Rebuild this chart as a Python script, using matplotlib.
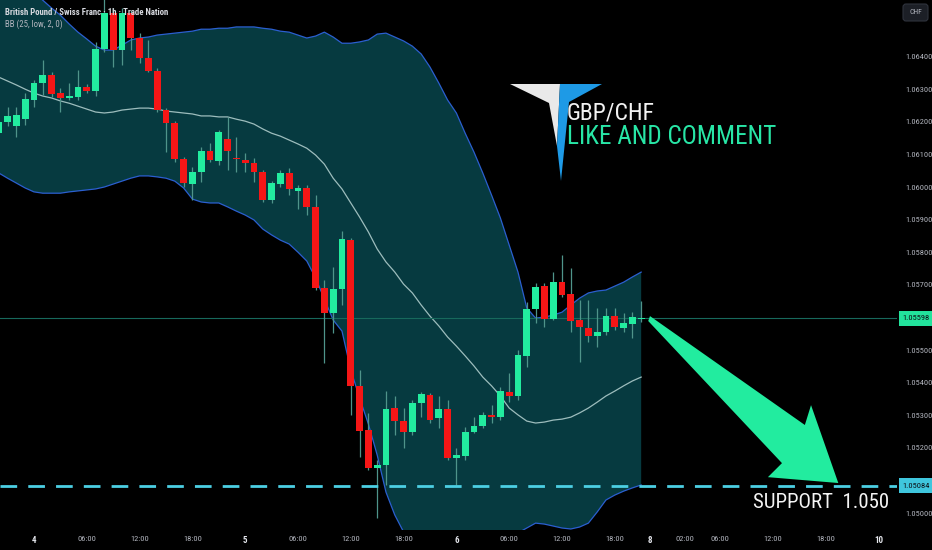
import numpy as np
import matplotlib.pyplot as plt
from matplotlib import transforms
from matplotlib import font_manager as fm
from matplotlib.patches import Polygon, Rectangle, FancyBboxPatch


def pick_font(*names):
    for n in names:
        try:
            fm.findfont(fm.FontProperties(family=n), fallback_to_default=False)
            return n
        except Exception:
            pass
    return 'DejaVu Sans'


NARROW = pick_font('Liberation Sans Narrow', 'Roboto Condensed', 'Liberation Sans')
plt.rcParams['font.family'] = [NARROW, 'DejaVu Sans']

# hourly bars, index = hours since day 4 00:00 (weekend gap collapsed)
bar_index = np.arange(-4, 70)

opens = [
    1.06165, 1.06199, 1.06187, 1.06208,
    1.06267, 1.06319, 1.06343, 1.06288, 1.06273, 1.06276, 1.06307, 1.06294, 1.06423, 1.06534,
    1.06420, 1.06534, 1.06457, 1.06395, 1.06356, 1.06236, 1.06196, 1.06086, 1.06009, 1.06046,
    1.06110, 1.06080, 1.06147, 1.06089, 1.06083, 1.06073, 1.06046, 1.05960, 1.06009, 1.06043,
    1.05988, 1.05997, 1.05939, 1.05690, 1.05613, 1.05687, 1.05837, 1.05390, 1.05255, 1.05138,
    1.05147, 1.05322, 1.05282, 1.05248, 1.05337, 1.05362, 1.05291, 1.05319, 1.05169, 1.05175,
    1.05248, 1.05267, 1.05301, 1.05294, 1.05371, 1.05359, 1.05482, 1.05626, 1.05696, 1.05595,
    1.05708, 1.05672, 1.05592, 1.05567, 1.05543, 1.05555, 1.05604, 1.05567, 1.05580, 1.05595,
]
highs = [
    1.06218, 1.06245, 1.06245, 1.06288,
    1.06328, 1.06389, 1.06353, 1.06303, 1.06319, 1.06359, 1.06316, 1.06445, 1.06589, 1.06549,
    1.06549, 1.06543, 1.06472, 1.06451, 1.06365, 1.06242, 1.06202, 1.06092, 1.06061, 1.06123,
    1.06135, 1.06175, 1.06215, 1.06153, 1.06104, 1.06089, 1.06052, 1.06018, 1.06052, 1.06058,
    1.06006, 1.06006, 1.05975, 1.05715, 1.05754, 1.05865, 1.05843, 1.05439, 1.05307, 1.05163,
    1.05374, 1.05359, 1.05322, 1.05347, 1.05371, 1.05368, 1.05359, 1.05347, 1.05199, 1.05264,
    1.05294, 1.05310, 1.05331, 1.05386, 1.05429, 1.05500, 1.05647, 1.05705, 1.05705, 1.05739,
    1.05791, 1.05751, 1.05653, 1.05653, 1.05629, 1.05629, 1.05629, 1.05613, 1.05616, 1.05650,
]
lows = [
    1.06144, 1.06187, 1.06153, 1.06190,
    1.06245, 1.06282, 1.06276, 1.06230, 1.06267, 1.06267, 1.06288, 1.06279, 1.06414, 1.06368,
    1.06374, 1.06420, 1.06380, 1.06353, 1.06230, 1.06107, 1.06077, 1.06000, 1.05960, 1.06015,
    1.06077, 1.06067, 1.06052, 1.06046, 1.06046, 1.06015, 1.05954, 1.05951, 1.06000, 1.05975,
    1.05932, 1.05914, 1.05684, 1.05460, 1.05552, 1.05638, 1.05301, 1.05172, 1.05132, 1.04985,
    1.05086, 1.05239, 1.05199, 1.05239, 1.05294, 1.05276, 1.05261, 1.05163, 1.05086, 1.05163,
    1.05245, 1.05261, 1.05276, 1.05285, 1.05340, 1.05347, 1.05448, 1.05583, 1.05570, 1.05592,
    1.05662, 1.05555, 1.05463, 1.05524, 1.05509, 1.05546, 1.05561, 1.05555, 1.05537, 1.05586,
]
closes = [
    1.06199, 1.06218, 1.06221, 1.06270,
    1.06319, 1.06343, 1.06285, 1.06273, 1.06279, 1.06307, 1.06294, 1.06423, 1.06534, 1.06420,
    1.06534, 1.06457, 1.06395, 1.06356, 1.06236, 1.06196, 1.06086, 1.06012, 1.06046, 1.06110,
    1.06083, 1.06169, 1.06110, 1.06086, 1.06073, 1.06046, 1.05960, 1.06012, 1.06043, 1.05994,
    1.05997, 1.05939, 1.05690, 1.05613, 1.05687, 1.05840, 1.05390, 1.05251, 1.05138, 1.05147,
    1.05319, 1.05282, 1.05248, 1.05337, 1.05365, 1.05285, 1.05319, 1.05169, 1.05178, 1.05248,
    1.05267, 1.05301, 1.05294, 1.05374, 1.05359, 1.05485, 1.05626, 1.05693, 1.05595, 1.05708,
    1.05669, 1.05589, 1.05570, 1.05543, 1.05555, 1.05604, 1.05570, 1.05583, 1.05601, 1.05598,
]

# Bollinger bands BB(25, low, 2, 0)
bb_upper = [
    1.06699, 1.06675, 1.06650, 1.06626,
    1.06598, 1.06573, 1.06549, 1.06527, 1.06500, 1.06475, 1.06454, 1.06432, 1.06420, 1.06420,
    1.06435, 1.06451, 1.06457, 1.06460, 1.06466, 1.06469, 1.06472, 1.06475, 1.06478, 1.06484,
    1.06484, 1.06487, 1.06487, 1.06491, 1.06491, 1.06491, 1.06487, 1.06484, 1.06478, 1.06475,
    1.06466, 1.06457, 1.06463, 1.06475, 1.06460, 1.06441, 1.06441, 1.06445, 1.06451, 1.06469,
    1.06472, 1.06460, 1.06448, 1.06432, 1.06408, 1.06368, 1.06319, 1.06267, 1.06227, 1.06165,
    1.06107, 1.06043, 1.05975, 1.05905, 1.05822, 1.05739, 1.05629, 1.05598, 1.05601, 1.05607,
    1.05616, 1.05638, 1.05659, 1.05675, 1.05681, 1.05684, 1.05696, 1.05708, 1.05724, 1.05739,
]
bb_basis = [
    1.06337, 1.06325, 1.06313, 1.06300,
    1.06288, 1.06279, 1.06273, 1.06264, 1.06257, 1.06248, 1.06239, 1.06230, 1.06227, 1.06230,
    1.06236, 1.06239, 1.06242, 1.06242, 1.06239, 1.06233, 1.06230, 1.06227, 1.06224, 1.06218,
    1.06218, 1.06215, 1.06215, 1.06208, 1.06202, 1.06193, 1.06178, 1.06165, 1.06156, 1.06144,
    1.06132, 1.06119, 1.06098, 1.06070, 1.06027, 1.05994, 1.05951, 1.05908, 1.05862, 1.05810,
    1.05770, 1.05739, 1.05702, 1.05675, 1.05638, 1.05604, 1.05574, 1.05540, 1.05512, 1.05482,
    1.05451, 1.05417, 1.05390, 1.05359, 1.05322, 1.05301, 1.05282, 1.05276, 1.05279, 1.05285,
    1.05288, 1.05294, 1.05307, 1.05322, 1.05340, 1.05359, 1.05374, 1.05390, 1.05405, 1.05417,
]
bb_lower = [
    1.06043, 1.06027, 1.06012, 1.05997,
    1.05985, 1.05981, 1.05981, 1.05981, 1.05985, 1.05988, 1.05991, 1.05994, 1.06000, 1.06009,
    1.06018, 1.06027, 1.06034, 1.06034, 1.06031, 1.06027, 1.06018, 1.05997, 1.05963, 1.05954,
    1.05951, 1.05951, 1.05939, 1.05926, 1.05914, 1.05899, 1.05871, 1.05853, 1.05837, 1.05825,
    1.05800, 1.05773, 1.05721, 1.05656, 1.05592, 1.05558, 1.05439, 1.05353, 1.05273, 1.05178,
    1.05064, 1.04994, 1.04942, 1.04902, 1.04880, 1.04862, 1.04850, 1.04841, 1.04837, 1.04837,
    1.04841, 1.04850, 1.04868, 1.04893, 1.04917, 1.04939, 1.04954, 1.04969, 1.04966, 1.04960,
    1.04954, 1.04951, 1.04957, 1.04969, 1.05003, 1.05040, 1.05055, 1.05067, 1.05077, 1.05086,
]

support_level = 1.05084
price_ticks = [1.050, 1.051, 1.052, 1.053, 1.054, 1.055, 1.056, 1.057, 1.058,
               1.059, 1.060, 1.061, 1.062, 1.063, 1.064, 1.065]
# labels hidden behind the price boxes / currency badge
hidden_ticks = [1.051, 1.056, 1.065]
time_tick_pos = [0, 6, 12, 18, 24, 30, 36, 42, 48, 54, 60, 66, 70, 74, 78, 84, 90, 96]
time_tick_labels = ['4', '06:00', '12:00', '18:00', '5', '06:00', '12:00', '18:00', '6',
                    '06:00', '12:00', '18:00', '8', '02:00', '06:00', '12:00', '18:00', '10']

GREEN = '#22ec9f'
RED = '#f51616'
BG = '#000000'

fig = plt.figure(figsize=(9.32, 5.5), dpi=100, facecolor=BG)
ax = fig.add_axes([0, 20 / 550, 897 / 932, 530 / 550])
ax.set_facecolor(BG)
ax.set_xlim(-3.86, 98.07)
ax.set_ylim(1.049479, 1.065736)
for s in ax.spines.values():
    s.set_visible(False)

# bollinger bands
ax.fill_between(bar_index, bb_lower, bb_upper, color='#063a40', lw=0, zorder=1)
ax.plot(bar_index, bb_upper, color='#2b5fd0', lw=0.9, zorder=2)
ax.plot(bar_index, bb_lower, color='#2b5fd0', lw=0.9, zorder=2)
ax.plot(bar_index, bb_basis, color='#9dbdbd', lw=0.9, zorder=2)

# last price line
ax.axhline(closes[-1], color='#17695c', lw=0.8, zorder=2.5)

# candles
o = np.array(opens)
c = np.array(closes)
up = c >= o
cols = np.where(up, GREEN, RED)
ax.vlines(bar_index, lows, highs, color='#4f948a', lw=0.9, zorder=3)
body_bottom = np.minimum(o, c)
body_height = np.maximum(np.abs(c - o), 0.00004)
ax.bar(bar_index, body_height, bottom=body_bottom, width=0.76, color=cols, lw=0, zorder=4)

# support line
ax.axhline(support_level, color='#4ccfe3', lw=2.0, dashes=(6, 4), zorder=5)

# arrow towards support
arrow_shape = [(70.0, 1.05604), (87.6, 1.05270), (88.3, 1.05331), (91.4, 1.05092),
               (83.4, 1.05110), (85.0, 1.05153), (69.8, 1.05589)]
ax.add_patch(Polygon(arrow_shape, closed=True, color=GREEN, lw=0, zorder=6))

# axes ticks
ax.yaxis.tick_right()
ax.set_yticks(price_ticks)
ax.set_yticklabels(['' if t in hidden_ticks else f'{t:.5f}' for t in price_ticks])
ax.tick_params(axis='y', length=0, pad=6, labelsize=6, labelcolor='#b2b5be')
ax.set_xticks(time_tick_pos)
ax.set_xticklabels(time_tick_labels)
ax.tick_params(axis='x', length=0, pad=4, labelsize=6, labelcolor='#b2b5be')
for lbl in ax.get_xticklabels():
    if ':' not in lbl.get_text():
        lbl.set_fontweight('bold')
        lbl.set_color('#e6e8ee')
        lbl.set_fontsize(6.5)

# price boxes on the scale
blend = transforms.blended_transform_factory(ax.transAxes, ax.transData)
box_h = 15 / 32600
for price, fc in [(closes[-1], '#22e39c'), (support_level, '#3fc6dd')]:
    ax.add_patch(Rectangle((1.002, price - box_h / 2), 0.0385, box_h, transform=blend,
                           facecolor=fc, edgecolor='none', clip_on=False, zorder=10))
    ax.text(1.0212, price, f'{price:.5f}', transform=blend, ha='center', va='center',
            fontsize=6, color='#0b0e14', clip_on=False, zorder=11)

# overlay for decorations in pixel coordinates
deco = fig.add_axes([0, 0, 1, 1])
deco.set_xlim(0, 932)
deco.set_ylim(550, 0)
deco.axis('off')

deco.add_patch(FancyBboxPatch((903, 4), 25, 17, boxstyle='round,pad=0,rounding_size=3',
                              facecolor='#1c1f26', edgecolor='#2f333d', lw=0.8))
deco.text(915.5, 12.5, 'CHF', ha='center', va='center', fontsize=5.5, color='#b2b5be')

# logo
deco.add_patch(Polygon([(510, 84), (560, 84), (557, 146), (549, 103)], closed=True,
                       facecolor='#e9e9e9', lw=0))
deco.add_patch(Polygon([(560, 84), (602, 84), (569, 102), (561, 181), (557, 146)], closed=True,
                       facecolor='#1e9ae6', lw=0))
deco.text(567, 113, 'GBP/CHF', ha='left', va='center', fontsize=17, color='#f2f2f2')
deco.text(567, 137, 'LIKE AND COMMENT', ha='left', va='center', fontsize=18.2, color='#28e6a6')

deco.text(821, 503, 'SUPPORT  1.050', ha='center', va='center', fontsize=15, color='#f4f4f4')

deco.text(5, 12.5, 'British Pound / Swiss Franc · 1h · Trade Nation', ha='left', va='center',
          fontsize=6.3, fontweight='bold', color='#d8dae0')
deco.text(5, 24, 'BB (25, low, 2, 0)', ha='left', va='center', fontsize=6.3, color='#b2b5be')

fig.savefig('out.png', dpi=100, facecolor=BG)
